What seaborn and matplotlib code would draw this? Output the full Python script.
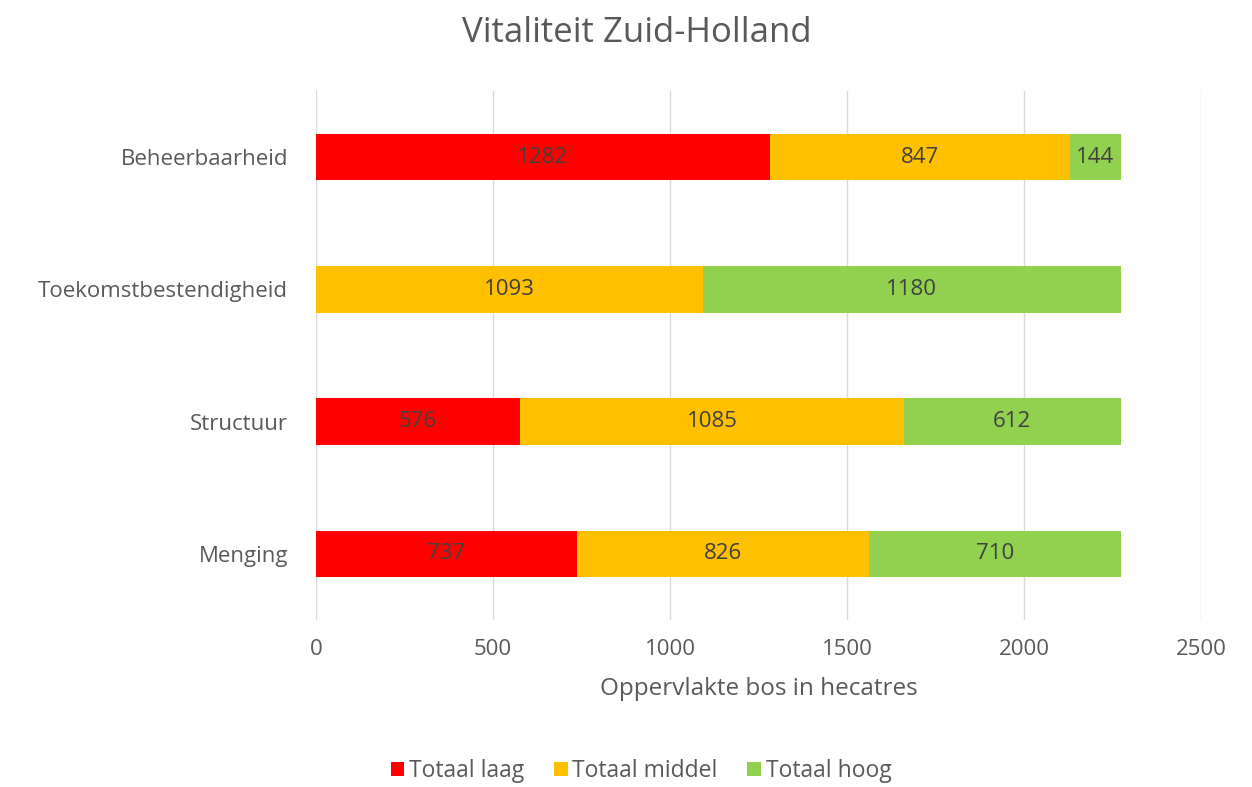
import matplotlib
matplotlib.use("Agg")
import matplotlib.pyplot as plt
import seaborn as sns
import pandas as pd
from matplotlib.patches import Patch

categories = ["Beheerbaarheid", "Toekomstbestendigheid", "Structuur", "Menging"]
laag = [1282, 0, 576, 737]
middel = [847, 1093, 1085, 826]
hoog = [144, 1180, 612, 710]
series_names = ["Totaal laag", "Totaal middel", "Totaal hoog"]
colors = ["#FF0000", "#FFC000", "#92D050"]
x_ticks = [0, 500, 1000, 1500, 2000, 2500]

sns.set_theme(style="white")
plt.rcParams["font.family"] = ["Open Sans", "DejaVu Sans"]
text_color = "#595959"

df = pd.DataFrame({"categorie": categories, "laag": laag, "middel": middel, "hoog": hoog})
df["c1"] = df["laag"]
df["c2"] = df["laag"] + df["middel"]
df["c3"] = df["c2"] + df["hoog"]

fig = plt.figure(figsize=(12.52, 7.87), dpi=100)
ax = fig.add_axes([316 / 1252, 1 - 620 / 787, (1201 - 316) / 1252, (620 - 91) / 787])

# stacked bars drawn as overlapping cumulative totals
for col, color in zip(["c3", "c2", "c1"], colors[::-1]):
    sns.barplot(data=df, x=col, y="categorie", color=color, width=0.35,
                saturation=1, ax=ax, orient="h", zorder=3, linewidth=0)

# segment labels
for i in range(len(categories)):
    starts = [0, laag[i], laag[i] + middel[i]]
    for s, v in zip(starts, [laag[i], middel[i], hoog[i]]):
        if v > 0:
            ax.text(s + v / 2, i, f"{v}", ha="center", va="center",
                    fontsize=16, color="#404040", zorder=4)

ax.set_xlim(0, 2500)
ax.set_ylim(3.5, -0.5)
ax.set_xticks(x_ticks)
ax.set_xticklabels([str(t) for t in x_ticks])
ax.grid(axis="x", color="#D9D9D9", linewidth=1, zorder=0)
ax.grid(axis="y", visible=False)
for sp in ax.spines.values():
    sp.set_visible(False)
ax.tick_params(axis="both", length=0, labelsize=16, colors=text_color)
ax.tick_params(axis="y", pad=20)
ax.tick_params(axis="x", pad=14)
ax.set_ylabel("")
ax.set_xlabel("Oppervlakte bos in hecatres", fontsize=17.5, color=text_color, labelpad=12)

fig.text(637 / 1252, 1 - 33 / 787, "Vitaliteit Zuid-Holland", fontsize=25,
         color=text_color, ha="center", va="center")

handles = [Patch(facecolor=c, edgecolor="none") for c in colors]
fig.legend(handles, series_names, loc="center", bbox_to_anchor=(641 / 1252, 1 - 771 / 787),
           ncol=3, frameon=False, fontsize=16.5, labelcolor=text_color,
           handlelength=0.6, handleheight=0.6, handletextpad=0.2, columnspacing=1.3)

fig.savefig("out.png", dpi=100)
